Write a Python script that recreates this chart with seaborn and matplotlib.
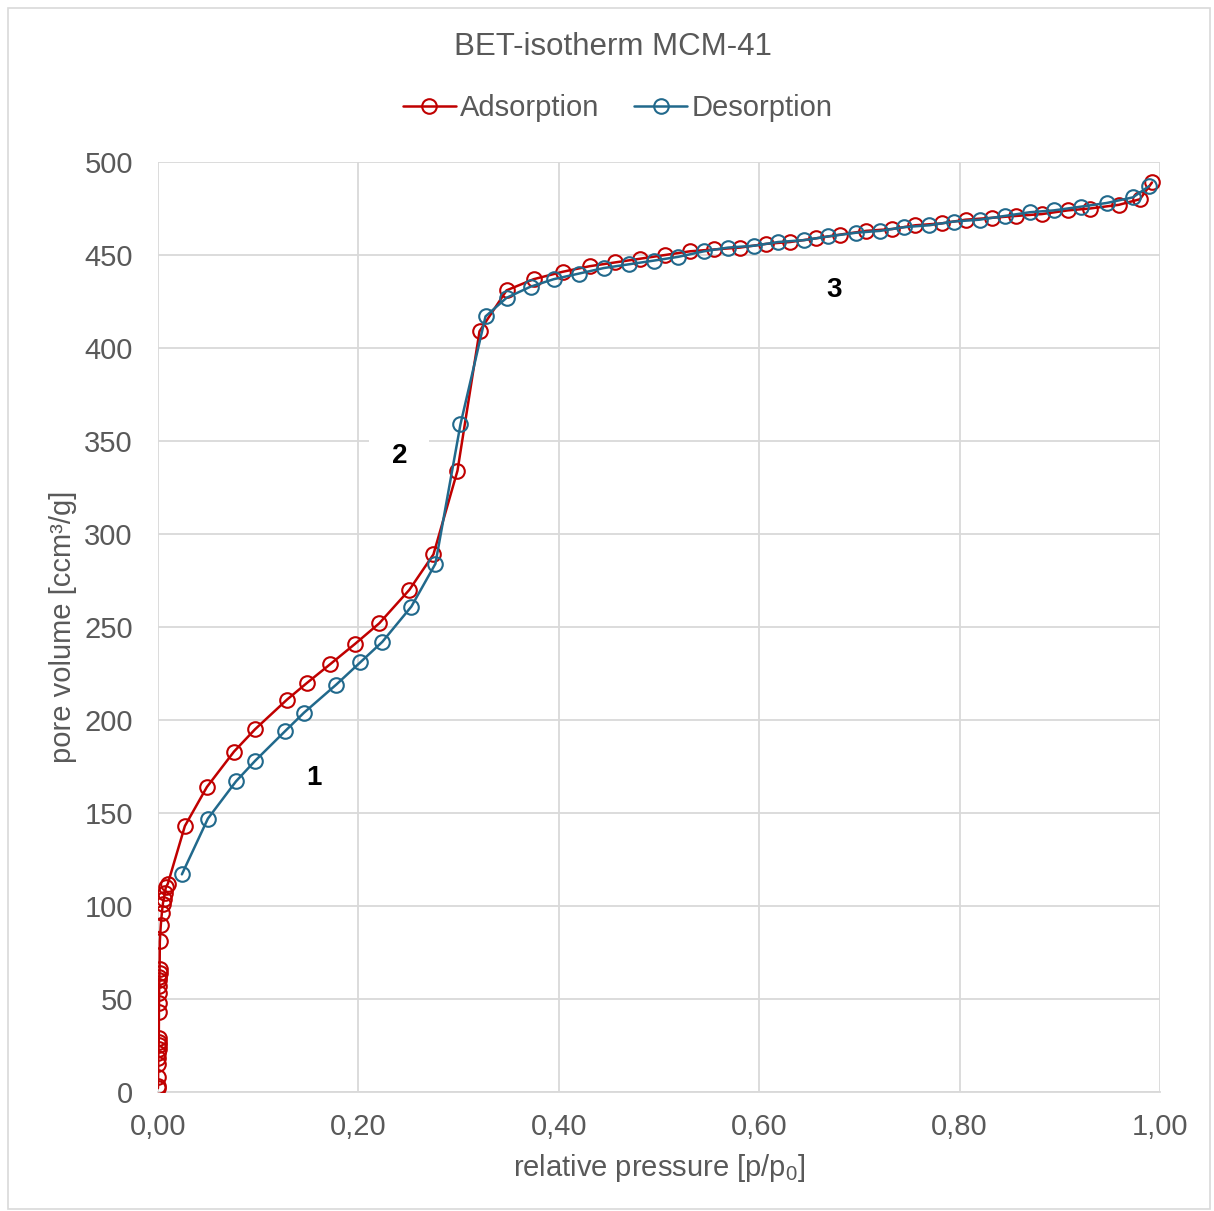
import matplotlib
matplotlib.use("Agg")
import matplotlib.pyplot as plt
import matplotlib.patches as patches
import seaborn as sns
import pandas as pd

# Adsorption branch (relative pressure, pore volume)
ads_p = [0.0001, 0.0002, 0.0003, 0.0004, 0.0005, 0.0006, 0.0007, 0.0008, 0.0009, 0.001,
         0.0011, 0.0012, 0.0013, 0.0014, 0.0015, 0.0016, 0.0017, 0.0018,
         0.002, 0.003, 0.004, 0.005, 0.006, 0.007, 0.008, 0.010,
         0.027, 0.049, 0.076, 0.097, 0.129, 0.149, 0.172, 0.197, 0.221, 0.251,
         0.275, 0.299, 0.321, 0.348, 0.375, 0.404, 0.431, 0.456, 0.481, 0.506,
         0.531, 0.555, 0.581, 0.607, 0.631, 0.657, 0.681, 0.707, 0.733, 0.756,
         0.782, 0.806, 0.832, 0.856, 0.882, 0.908, 0.930, 0.959, 0.980, 0.992]
ads_v = [2, 3, 8, 15, 18, 21, 23, 25, 27, 29,
         43, 48, 53, 57, 60, 62, 64, 66,
         81, 90, 96, 101, 104, 107, 110, 112,
         143, 164, 183, 195, 211, 220, 230, 241, 252, 270,
         289, 334, 409, 431, 437, 441, 444, 446, 448, 450,
         452, 453, 454, 456, 457, 459, 461, 463, 464, 466,
         467, 469, 470, 471, 472, 474, 475, 477, 480, 489]

# Desorption branch
des_p = [0.024, 0.050, 0.078, 0.097, 0.127, 0.146, 0.178, 0.202, 0.224, 0.253,
         0.277, 0.302, 0.327, 0.348, 0.372, 0.395, 0.420, 0.445, 0.470, 0.495,
         0.519, 0.545, 0.569, 0.595, 0.619, 0.645, 0.669, 0.697, 0.721, 0.745,
         0.770, 0.794, 0.820, 0.845, 0.870, 0.894, 0.921, 0.947, 0.973, 0.989]
des_v = [117, 147, 167, 178, 194, 204, 219, 231, 242, 261,
         284, 359, 417, 427, 433, 437, 440, 443, 445, 447,
         449, 452, 454, 455, 457, 458, 460, 462, 463, 465,
         466, 468, 469, 471, 473, 474, 476, 478, 481, 487]

x_ticks = [0.0, 0.2, 0.4, 0.6, 0.8, 1.0]
x_tick_labels = ["0,00", "0,20", "0,40", "0,60", "0,80", "1,00"]
y_ticks = [0, 50, 100, 150, 200, 250, 300, 350, 400, 450, 500]

# region labels
region_text = ["1", "2", "3"]
region_p = [0.156, 0.241, 0.675]
region_v = [169, 342, 431]

ads = pd.DataFrame({"p": ads_p, "v": ads_v})
des = pd.DataFrame({"p": des_p, "v": des_v})

sns.set_style("white")
plt.rcParams["font.family"] = ["Liberation Sans", "DejaVu Sans"]
plt.rcParams["mathtext.fontset"] = "custom"
plt.rcParams["mathtext.rm"] = "Liberation Sans"
plt.rcParams["mathtext.it"] = "Liberation Sans"

gray = "#595959"
red = "#c00000"
blue = "#21698c"

fig = plt.figure(figsize=(12.14, 12.11), dpi=100)
ax = fig.add_axes([0.130, 0.0983, 0.8255, 0.7679])

sns.lineplot(data=ads, x="p", y="v", ax=ax, color=red, marker="o", markersize=10.5,
             markerfacecolor="none", markeredgecolor=red, markeredgewidth=1.5,
             linewidth=1.8, estimator=None, sort=False, label="Adsorption", zorder=3)
sns.lineplot(data=des, x="p", y="v", ax=ax, color=blue, marker="o", markersize=10.5,
             markerfacecolor="none", markeredgecolor=blue, markeredgewidth=1.5,
             linewidth=1.8, estimator=None, sort=False, label="Desorption", zorder=4)

ax.set_xlim(0, 1.0)
ax.set_ylim(0, 500)
ax.set_xticks(x_ticks)
ax.set_xticklabels(x_tick_labels)
ax.set_yticks(y_ticks)
ax.grid(True, color="#d9d9d9", linewidth=1.3, zorder=0)
ax.set_axisbelow(True)
for s in ["top", "right", "left"]:
    ax.spines[s].set_visible(False)
ax.spines["bottom"].set_color("#d9d9d9")
ax.spines["bottom"].set_linewidth(1.3)
ax.tick_params(axis="both", length=0, labelsize=21, labelcolor=gray)
ax.tick_params(axis="x", pad=15)
ax.tick_params(axis="y", pad=18)

ax.set_xlabel(r"relative pressure [p/p$\mathregular{_0}$]", fontsize=21, color=gray, labelpad=8)
ax.set_ylabel("pore volume [ccm³/g]", fontsize=21, color=gray, labelpad=5)

for t, px, vy in zip(region_text, region_p, region_v):
    bbox = dict(facecolor="white", edgecolor="none", pad=16) if t == "2" else None
    ax.text(px, vy, t, fontsize=20, fontweight="bold", color="black",
            ha="center", va="center", bbox=bbox, zorder=2)

fig.text(0.505, 0.961, "BET-isotherm MCM-41", fontsize=22.5, color=gray, ha="center", va="center")
leg = ax.legend(loc="center", bbox_to_anchor=(0.459, 1.058), ncol=2, frameon=False,
                fontsize=21, handlelength=1.8, handletextpad=0.15, columnspacing=1.2)
for txt in leg.get_texts():
    txt.set_color(gray)

fig.patches.append(patches.Rectangle((0.007, 0.002), 0.99, 0.991, transform=fig.transFigure,
                                     fill=False, edgecolor="#d9d9d9", linewidth=1.2))

fig.savefig("out.png", dpi=100)
